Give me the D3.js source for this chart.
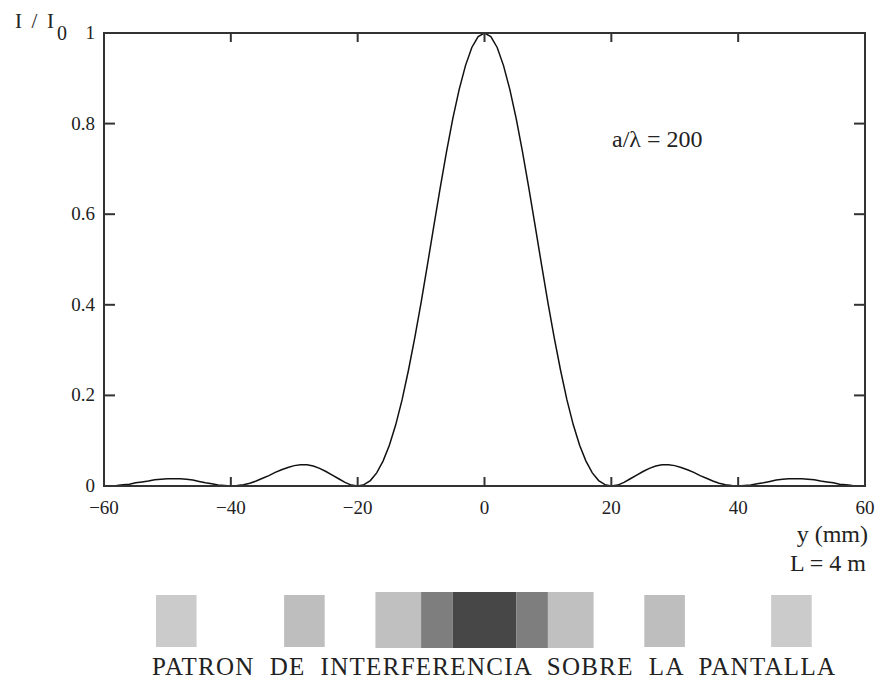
<!DOCTYPE html>
<meta charset="utf-8">
<style>

body {
  margin: 0;
  background: #fff;
}

svg text {
  fill: #222;
}

.curve {
  fill: none;
  stroke: #111;
  stroke-width: 1.5px;
}

.frame {
  fill: none;
  stroke: #333;
  stroke-width: 2px;
}

.tick {
  stroke: #333;
  stroke-width: 2px;
}

</style>
<body>
</body>
<script src="https://cdn.jsdelivr.net/npm/d3@7"></script>
<script>

// intensity I/I0 read every 1 mm from y = -60 to y = 60
var intensity = [
  0, 0.000, 0.001, 0.003, 0.004, 0.007, 0.009, 0.011, 0.014, 0.015,
  0.016, 0.016, 0.016, 0.015, 0.013, 0.010, 0.007, 0.005, 0.002, 0.001,
  0, 0.001, 0.003, 0.006, 0.011, 0.017, 0.023, 0.030, 0.036, 0.041,
  0.045, 0.047, 0.047, 0.044, 0.039, 0.032, 0.024, 0.016, 0.008, 0.002,
  0, 0.003, 0.012, 0.029, 0.055, 0.090, 0.135, 0.190, 0.255, 0.327,
  0.405, 0.488, 0.573, 0.657, 0.737, 0.811, 0.875, 0.928, 0.968, 0.992,
  1,
  0.992, 0.968, 0.928, 0.875, 0.811, 0.737, 0.657, 0.573, 0.488, 0.405,
  0.327, 0.255, 0.190, 0.135, 0.090, 0.055, 0.029, 0.012, 0.003, 0,
  0.002, 0.008, 0.016, 0.024, 0.032, 0.039, 0.044, 0.047, 0.047, 0.045,
  0.041, 0.036, 0.030, 0.023, 0.017, 0.011, 0.006, 0.003, 0.001, 0,
  0.001, 0.002, 0.005, 0.007, 0.010, 0.013, 0.015, 0.016, 0.016, 0.016,
  0.015, 0.014, 0.011, 0.009, 0.007, 0.004, 0.003, 0.001, 0.000, 0
];
var positions = d3.range(-60, 61);

var xTicks = [-60, -40, -20, 0, 20, 40, 60];
var yTicks = [0, 0.2, 0.4, 0.6, 0.8, 1];
var yTickLabels = ["0", "0.2", "0.4", "0.6", "0.8", "1"];

// bands of the pattern seen on the screen (mm)
var bandFrom  = [-51.8, -31.6, -17.2, -10.0, -5.0, 5.0, 10.0, 25.2, 45.2];
var bandTo    = [-45.4, -25.2, -10.0, -5.0, 5.0, 10.0, 17.2, 31.6, 51.6];
var bandShade = ["#cbcbcb", "#bebebe", "#c0c0c0", "#7e7e7e", "#474747", "#7e7e7e", "#c0c0c0", "#bebebe", "#cbcbcb"];
var bandMain  = [false, false, true, true, true, true, true, false, false];

var serif = "'Liberation Serif', 'DejaVu Serif', serif";

var w = 878,
    h = 686;

var svg = d3.select("body").append("svg")
    .attr("width", w)
    .attr("height", h)
    .style("font-family", serif);

var x = d3.scaleLinear().domain([-60, 60]).range([104, 865]);
var y = d3.scaleLinear().domain([0, 1]).range([486, 33]);

// curve
var line = d3.line()
    .x(function(d, i) { return x(positions[i]); })
    .y(function(d) { return y(d); });

svg.append("path")
    .datum(intensity)
    .attr("class", "curve")
    .attr("d", line);

// inward ticks on all four sides
svg.selectAll(".xb")
    .data(xTicks.slice(1, -1))
  .enter().append("line")
    .attr("class", "tick")
    .attr("x1", x).attr("x2", x)
    .attr("y1", y(0)).attr("y2", y(0) - 9);

svg.selectAll(".xt")
    .data(xTicks.slice(1, -1))
  .enter().append("line")
    .attr("class", "tick")
    .attr("x1", x).attr("x2", x)
    .attr("y1", y(1)).attr("y2", y(1) + 9);

svg.selectAll(".yl")
    .data(yTicks.slice(1, -1))
  .enter().append("line")
    .attr("class", "tick")
    .attr("x1", x(-60)).attr("x2", x(-60) + 11)
    .attr("y1", y).attr("y2", y);

svg.selectAll(".yr")
    .data(yTicks.slice(1, -1))
  .enter().append("line")
    .attr("class", "tick")
    .attr("x1", x(60)).attr("x2", x(60) - 11)
    .attr("y1", y).attr("y2", y);

svg.append("rect")
    .attr("class", "frame")
    .attr("x", x(-60))
    .attr("y", y(1))
    .attr("width", x(60) - x(-60))
    .attr("height", y(0) - y(1));

// tick labels
svg.selectAll(".xlab")
    .data(xTicks)
  .enter().append("text")
    .attr("x", x)
    .attr("y", 514)
    .attr("text-anchor", "middle")
    .style("font-size", "19px")
    .text(function(d) { return d < 0 ? "\u2212" + (-d) : d; });

svg.selectAll(".ylab")
    .data(yTicks)
  .enter().append("text")
    .attr("x", 95)
    .attr("y", function(d) { return y(d) + 6; })
    .attr("text-anchor", "end")
    .style("font-size", "19px")
    .text(function(d, i) { return yTickLabels[i]; });

// axis titles and notes
svg.append("text")
    .attr("x", 15)
    .attr("y", 28)
    .attr("textLength", 39)
    .attr("lengthAdjust", "spacing")
    .style("white-space", "pre")
    .style("font-size", "21px")
    .text("I / I");

svg.append("text")
    .attr("x", 57)
    .attr("y", 40)
    .style("font-size", "20px")
    .text("0");

svg.append("text")
    .attr("x", 868).attr("y", 542)
    .attr("text-anchor", "end")
    .style("font-size", "24px")
    .text("y (mm)");

svg.append("text")
    .attr("x", 866).attr("y", 571)
    .attr("text-anchor", "end")
    .style("font-size", "24px")
    .text("L = 4 m");

svg.append("text")
    .attr("x", 612).attr("y", 147)
    .style("font-size", "24px")
    .text("a/\u03bb = 200");

// pattern on the screen
svg.selectAll(".band")
    .data(bandShade)
  .enter().append("rect")
    .attr("x", function(d, i) { return x(bandFrom[i]); })
    .attr("width", function(d, i) { return x(bandTo[i]) - x(bandFrom[i]); })
    .attr("y", function(d, i) { return bandMain[i] ? 592 : 595; })
    .attr("height", function(d, i) { return bandMain[i] ? 56 : 52; })
    .style("fill", function(d) { return d; });

svg.append("text")
    .attr("x", 152).attr("y", 675)
    .attr("textLength", 683)
    .attr("lengthAdjust", "spacing")
    .style("white-space", "pre")
    .style("font-size", "25px")
    .text("PATRON  DE  INTERFERENCIA  SOBRE  LA  PANTALLA");

</script>
